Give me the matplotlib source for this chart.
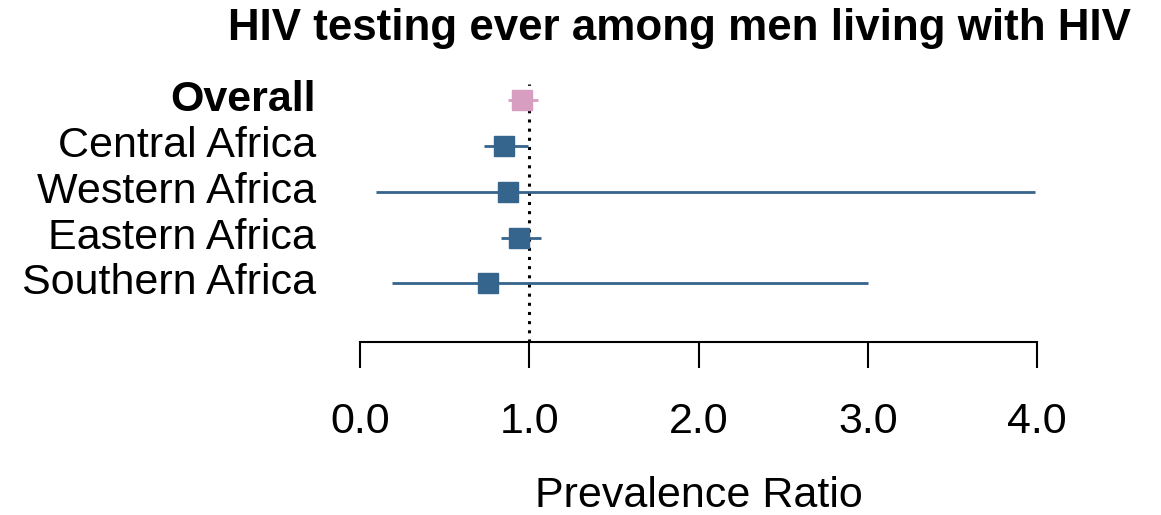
import numpy as np
import matplotlib
matplotlib.use("Agg")
import matplotlib.pyplot as plt

# -----------------------------
# DATA
# -----------------------------
labels = ["Overall", "Central Africa", "Western Africa", "Eastern Africa", "Southern Africa"]
estimate = [0.957, 0.85, 0.873, 0.942, 0.758]
lower = [0.873, 0.732, 0.096, 0.834, 0.187]
upper = [1.05, 0.995, 3.99, 1.068, 3.0]
xticks = [0.0, 1.0, 2.0, 3.0, 4.0]
xticklabels = ["0.0", "1.0", "2.0", "3.0", "4.0"]

BLUE = "#35648C"
PINK = "#D79EC2"

plt.rcParams['font.family'] = ['Liberation Sans', 'DejaVu Sans']

W, H = 1161, 515
fig = plt.figure(figsize=(W / 100, H / 100), dpi=100)

# axes placed in pixel terms: x 0..4 -> px 360..1037, rows from px 84 to 342
left, right = 360, 1037
top, bottom = 84, 342
ax = fig.add_axes([left / W, 1 - bottom / H, (right - left) / W, (bottom - top) / H])
ax.set_xlim(0, 4)
ax.set_ylim(5.28, -0.35)

rows = np.arange(len(labels))
for i, r in enumerate(rows):
    col = PINK if i == 0 else BLUE
    ax.plot([lower[i], upper[i]], [r, r], color=col, lw=2, solid_capstyle="butt", clip_on=False, zorder=2)
    ax.plot(estimate[i], r, marker="s", ms=14, color=col, mec=col, clip_on=False, zorder=3)
    ax.text(-0.26, r, labels[i], ha="right", va="center", fontsize=31,
            fontweight="bold" if i == 0 else "normal", clip_on=False)

# reference line at PR = 1
ax.axvline(1.0, color="black", ls=(0, (1, 2)), lw=2.2, zorder=1)

for s in ["top", "right", "left"]:
    ax.spines[s].set_visible(False)
ax.spines["bottom"].set_linewidth(1.5)
ax.set_yticks([])
ax.set_xticks(xticks)
ax.set_xticklabels(xticklabels, fontsize=31)
ax.tick_params(axis="x", direction="out", length=19, width=1.5, pad=24)
ax.set_xlabel("Prevalence Ratio", fontsize=31, labelpad=25)

fig.text(679 / W, 1 - 40 / H, "HIV testing ever among men living with HIV",
         ha="center", va="baseline", fontsize=31.6, fontweight="bold")

fig.savefig("out.png", dpi=100)
